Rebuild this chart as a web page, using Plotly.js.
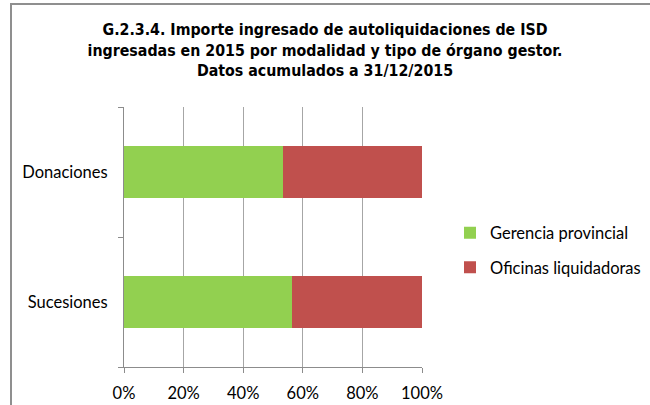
<!DOCTYPE html>
<html><head><meta charset="utf-8">
<script src="https://cdn.plot.ly/plotly-3.0.1.min.js"></script>
<style>
html,body{margin:0;padding:0;background:#fff;overflow:hidden;}
#frame{position:absolute;left:10px;top:3px;width:700px;height:450px;border-left:2px solid #8f8f8f;border-top:2px solid #8f8f8f;box-sizing:border-box;pointer-events:none;}
#chart{position:absolute;left:0;top:0;width:650px;height:405px;}
</style>
</head><body>
<div id="chart"></div>
<div id="frame"></div>
<script>
const categories = ["Sucesiones", "Donaciones"];
const gerencia = [56.4, 53.2];
const oficinas = [43.6, 46.8];
const seriesNames = ["Gerencia provincial", "Oficinas liquidadoras"];
const xTickVals = [0, 20, 40, 60, 80, 100];
const xTickText = ["0%", "20%", "40%", "60%", "80%", "100%"];

const labelFont = {family:"Lato, 'Open Sans', sans-serif", size:16.5, color:"#000"};
const traces = [
  {type:"bar", orientation:"h", y:categories, x:gerencia, name:seriesNames[0],
   legendgroup:"g1", marker:{color:"#92d050"}, hoverinfo:"none"},
  {type:"bar", orientation:"h", y:categories, x:oficinas, name:seriesNames[1],
   legendgroup:"g2", marker:{color:"#c0504d"}, hoverinfo:"none"}
];
const layout = {
  width:650, height:405,
  margin:{l:124, r:228, t:107, b:38, pad:0, autoexpand:false},
  paper_bgcolor:"#fff", plot_bgcolor:"#fff",
  barmode:"stack", bargap:0.6,
  showlegend:true,
  legend:{xref:"container", yref:"container", x:450/650, y:(405-250)/405,
    xanchor:"left", yanchor:"middle",
    font:labelFont, tracegroupgap:10, itemwidth:30, traceorder:"grouped"},
  title:{text:"<b>G.2.3.4. Importe ingresado de autoliquidaciones de ISD<br>ingresadas en 2015 por modalidad y tipo de órgano gestor.<br>Datos acumulados a 31/12/2015</b>",
    x:0.5, xref:"container", xanchor:"center", y:0.913, yanchor:"top", yref:"container",
    font:{family:"'DejaVu Sans Condensed','DejaVu Sans',sans-serif", size:15.8, stretch:"condensed", weight:"bold", color:"#000"}},
  xaxis:{range:[0,100], tickvals:xTickVals, ticktext:xTickText,
    showgrid:true, gridcolor:"#a6a6a6", gridwidth:1,
    showline:true, linecolor:"#8c8c8c", linewidth:1,
    ticks:"outside", ticklen:5, tickcolor:"#8c8c8c", ticklabelstandoff:6,
    zeroline:false, fixedrange:true, automargin:false,
    tickfont:labelFont},
  yaxis:{type:"category", categoryorder:"array", categoryarray:categories,
    showline:true, linecolor:"#8c8c8c", linewidth:1,
    ticks:"outside", ticklen:5, tickcolor:"#8c8c8c", tickson:"boundaries",
    showgrid:false, zeroline:false, fixedrange:true, ticklabelstandoff:12, automargin:false,
    tickfont:labelFont}
};
Plotly.newPlot("chart", traces, layout, {displayModeBar:false, staticPlot:true});
</script>
</body></html>
